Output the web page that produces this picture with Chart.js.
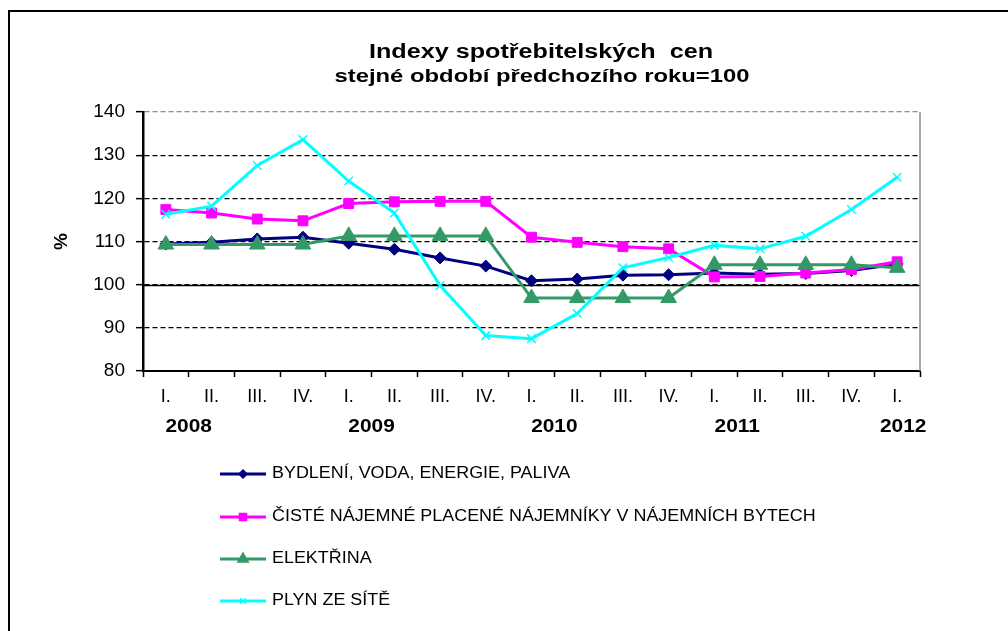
<!DOCTYPE html>
<html>
<head>
<meta charset="utf-8">
<script src="https://cdn.jsdelivr.net/npm/chart.js@4.4.1/dist/chart.umd.min.js"></script>
<style>
  html, body { margin: 0; padding: 0; background: #fff; }
  #wrap { width: 1008px; height: 631px; position: relative; }
</style>
</head>
<body>
<div id="wrap"><canvas id="c" width="1008" height="631"></canvas></div>
<script>
const quarters = ['I.', 'II.', 'III.', 'IV.', 'I.', 'II.', 'III.', 'IV.', 'I.', 'II.', 'III.', 'IV.', 'I.', 'II.', 'III.', 'IV.', 'I.'];
const years = ['2008', '2009', '2010', '2011', '2012'];
const yearStartIndex = [0, 4, 8, 12, 16];

const bydleni = [109.4, 109.8, 110.6, 111.0, 109.6, 108.2, 106.2, 104.3, 100.9, 101.3, 102.2, 102.3, 102.7, 102.4, 102.6, 103.3, 104.8];
const najemne = [117.4, 116.6, 115.2, 114.8, 118.8, 119.2, 119.3, 119.3, 111.0, 109.8, 108.8, 108.3, 101.8, 101.9, 102.7, 103.5, 105.3];
const elektrina = [109.3, 109.3, 109.3, 109.3, 111.3, 111.3, 111.3, 111.3, 96.9, 96.9, 96.9, 96.9, 104.6, 104.6, 104.6, 104.6, 103.9];
const plyn = [116.3, 118.2, 127.6, 133.6, 124.0, 116.6, 99.8, 88.2, 87.5, 93.3, 103.9, 106.3, 109.1, 108.3, 111.2, 117.4, 124.9];

const seriesNames = ['BYDLENÍ, VODA, ENERGIE, PALIVA', 'ČISTÉ NÁJEMNÉ PLACENÉ NÁJEMNÍKY V NÁJEMNÍCH BYTECH', 'ELEKTŘINA', 'PLYN ZE SÍTĚ'];
const titleLines = ['Indexy spotřebitelských  cen', 'stejné období předchozího roku=100'];
const yTitle = '%';

const FONT = '"Liberation Sans", Arial, sans-serif';

function stretchedText(ctx, text, x, y, sx, align) {
  ctx.save();
  const w = ctx.measureText(text).width * sx;
  let left = x;
  if (align === 'center') left = x - w / 2;
  ctx.translate(left, y);
  ctx.scale(sx, 1);
  ctx.textAlign = 'left';
  ctx.fillText(text, 0, 0);
  ctx.restore();
}

const frameAndExtras = {
  id: 'extras',
  beforeDraw(chart) {
    const ctx = chart.ctx;
    ctx.save();
    ctx.fillStyle = '#fff';
    ctx.fillRect(0, 0, chart.width, chart.height);
    ctx.restore();
  },
  beforeDatasetsDraw(chart) {
    const ctx = chart.ctx;
    const y = chart.scales.y;
    const a = chart.chartArea;
    ctx.save();
    const p = Math.round(y.getPixelForValue(100)) + 0.5;
    ctx.strokeStyle = '#000';
    ctx.lineWidth = 1.6;
    ctx.beginPath();
    ctx.moveTo(a.left, p);
    ctx.lineTo(a.right, p);
    ctx.stroke();
    ctx.strokeStyle = '#8c8c8c';
    ctx.lineWidth = 1.5;
    ctx.beginPath();
    ctx.moveTo(a.right, a.top);
    ctx.lineTo(a.right, a.bottom);
    ctx.stroke();
    ctx.restore();
  },
  afterDraw(chart) {
    const ctx = chart.ctx;
    const x = chart.scales.x;
    ctx.save();
    ctx.strokeStyle = '#000';
    ctx.lineWidth = 2;
    ctx.strokeRect(9, 11, 1100, 700);
    ctx.fillStyle = '#000';
    ctx.textBaseline = 'middle';
    ctx.font = 'bold 20px ' + FONT;
    let w1 = ctx.measureText(titleLines[0]).width;
    stretchedText(ctx, titleLines[0], 541, 52, 344 / w1, 'center');
    ctx.font = 'bold 19px ' + FONT;
    let w2 = ctx.measureText(titleLines[1]).width;
    stretchedText(ctx, titleLines[1], 542, 77, 415 / w2, 'center');
    ctx.font = 'bold 18px ' + FONT;
    years.forEach((yr, k) => {
      const i = yearStartIndex[k];
      let px;
      if (i + 1 < quarters.length) {
        px = (x.getPixelForValue(i) + x.getPixelForValue(i + 1)) / 2;
      } else {
        px = x.getPixelForValue(i) + 6;
      }
      stretchedText(ctx, yr, px, 427, 1.16, 'center');
    });
    const rows = [474, 517, 559, 601];
    const legendRadius = [4, 5, 6, 4];
    chart.data.datasets.forEach((ds, k) => {
      const yy = rows[k];
      ctx.strokeStyle = ds.borderColor;
      ctx.fillStyle = ds.borderColor;
      ctx.lineWidth = 3;
      ctx.beginPath();
      ctx.moveTo(220, yy);
      ctx.lineTo(266, yy);
      ctx.stroke();
      ctx.lineWidth = 1.5;
      Chart.helpers.drawPoint(ctx, {
        pointStyle: ds.pointStyle,
        rotation: 0,
        radius: legendRadius[k],
        borderWidth: 1.5
      }, 243, yy);
      ctx.fillStyle = '#000';
      ctx.font = '16px ' + FONT;
      ctx.textBaseline = 'middle';
      stretchedText(ctx, seriesNames[k], 272, yy, 1.12, 'left');
    });
    ctx.restore();
  }
};

const ctx = document.getElementById('c').getContext('2d');
new Chart(ctx, {
  type: 'line',
  data: {
    labels: quarters,
    datasets: [
      {
        label: seriesNames[0], data: bydleni, order: 4,
        borderColor: '#000080', backgroundColor: '#000080', pointBackgroundColor: '#000080',
        borderWidth: 3, pointStyle: 'rectRot', pointRadius: 6, pointBorderWidth: 1
      },
      {
        label: seriesNames[1], data: najemne, order: 3,
        borderColor: '#ff00ff', backgroundColor: '#ff00ff', pointBackgroundColor: '#ff00ff',
        borderWidth: 3, pointStyle: 'rect', pointRadius: 7, pointBorderWidth: 1
      },
      {
        label: seriesNames[2], data: elektrina, order: 2,
        borderColor: '#339966', backgroundColor: '#339966', pointBackgroundColor: '#339966',
        borderWidth: 3, pointStyle: 'triangle', pointRadius: 9, pointBorderWidth: 1
      },
      {
        label: seriesNames[3], data: plyn, order: 1,
        borderColor: '#00ffff', backgroundColor: '#00ffff', pointBackgroundColor: '#00ffff',
        borderWidth: 3, pointStyle: 'crossRot', pointRadius: 6, pointBorderWidth: 1.5
      }
    ]
  },
  options: {
    responsive: false,
    animation: false,
    layout: { padding: { left: 0, right: 88, top: 112, bottom: 181 } },
    plugins: {
      legend: { display: false },
      title: { display: false },
      tooltip: { enabled: false }
    },
    elements: { line: { tension: 0 } },
    scales: {
      x: {
        offset: true,
        afterFit(s) { s.height = 79; },
        grid: {
          offset: true, drawOnChartArea: false, drawTicks: true,
          tickLength: 6, tickColor: '#000', tickWidth: 1.5
        },
        border: { display: true, color: '#000', width: 2 },
        ticks: {
          color: '#000', font: { family: FONT, size: 18 }, padding: 9,
          maxRotation: 0, autoSkip: false
        }
      },
      y: {
        min: 80, max: 140,
        afterFit(s) { s.width = 143; },
        ticks: {
          stepSize: 10, color: '#000', font: { family: FONT, size: 19 }, padding: 11
        },
        grid: {
          color: (c) => (c.tick && c.tick.value === 140) ? '#8c8c8c' : '#000',
          lineWidth: 1.3,
          tickLength: 7, tickColor: '#000', tickWidth: 1.5, tickBorderDash: [],
          drawTicks: true
        },
        border: { display: true, color: '#000', width: 2.5, dash: [5, 3] },
        title: {
          display: true, text: yTitle, color: '#000',
          font: { family: FONT, size: 19, weight: 'bold' },
          padding: { top: 50, bottom: 0 }
        }
      }
    }
  },
  plugins: [frameAndExtras]
});
</script>
</body>
</html>
